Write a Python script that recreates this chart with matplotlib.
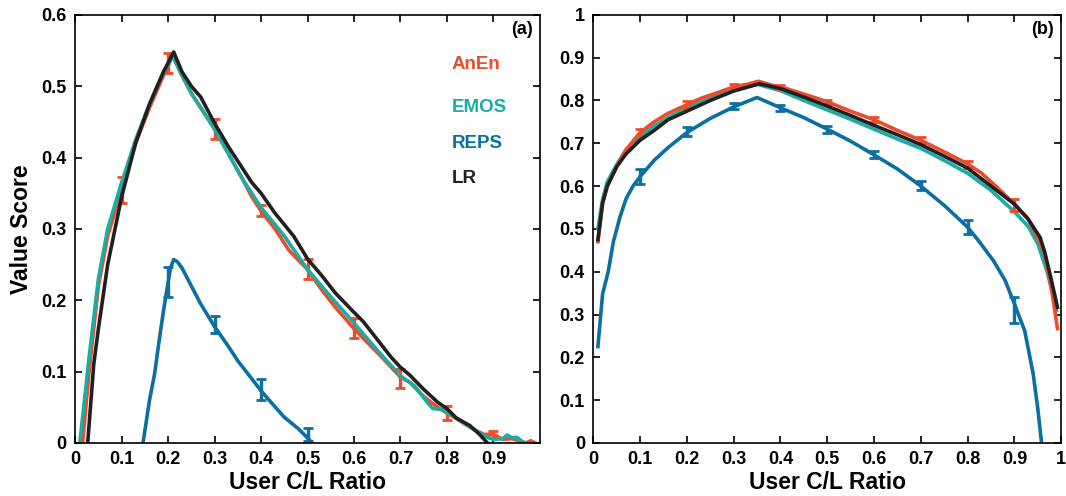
import matplotlib
matplotlib.use("Agg")
import matplotlib.pyplot as plt

plt.rcParams['font.family'] = ['Liberation Sans', 'DejaVu Sans']
plt.rcParams['font.weight'] = 'bold'

# colours of the four forecasts
c_anen = '#EE4B2B'
c_emos = '#1AADA3'
c_reps = '#0C6FA2'
c_lr = '#231F20'

# ---- panel (a) ----
a_anen_x = [0.016, 0.03, 0.05, 0.07, 0.1, 0.13, 0.16, 0.19, 0.21, 0.23, 0.25, 0.28, 0.3, 0.33, 0.36, 0.38,
            0.4, 0.43, 0.46, 0.5, 0.53, 0.56, 0.6, 0.63, 0.66, 0.7, 0.72, 0.75, 0.78, 0.8, 0.83, 0.86, 0.88,
            0.9, 0.92, 0.94, 0.96, 0.97, 0.98, 0.99]
a_anen_y = [0.0, 0.1, 0.22, 0.29, 0.355, 0.42, 0.47, 0.515, 0.543, 0.515, 0.49, 0.46, 0.44, 0.405, 0.37, 0.345,
            0.325, 0.3, 0.27, 0.243, 0.215, 0.19, 0.16, 0.14, 0.12, 0.092, 0.085, 0.065, 0.05, 0.042, 0.03, 0.018, 0.012,
            0.012, 0.005, 0.006, 0.002, 0.0, 0.003, 0.0]
a_emos_x = [0.01, 0.03, 0.05, 0.07, 0.1, 0.13, 0.16, 0.19, 0.21, 0.23, 0.25, 0.28, 0.3, 0.33, 0.36, 0.4, 0.45,
            0.5, 0.55, 0.6, 0.65, 0.7, 0.73, 0.76, 0.77, 0.79, 0.82, 0.85, 0.88, 0.9, 0.92, 0.93, 0.94, 0.95,
            0.96, 0.965]
a_emos_y = [0.0, 0.12, 0.23, 0.3, 0.365, 0.425, 0.475, 0.52, 0.542, 0.515, 0.49, 0.46, 0.44, 0.405, 0.37, 0.33, 0.29,
            0.243, 0.205, 0.168, 0.13, 0.094, 0.08, 0.055, 0.048, 0.047, 0.035, 0.022, 0.01, 0.005, 0.006, 0.011, 0.007,
            0.008, 0.003, 0.0]
a_reps_x = [0.146, 0.16, 0.171, 0.18, 0.19, 0.2, 0.205, 0.212, 0.22, 0.23, 0.25, 0.27, 0.3, 0.33, 0.35, 0.38,
            0.4, 0.42, 0.45, 0.48, 0.5, 0.51]
a_reps_y = [0.0, 0.06, 0.097, 0.14, 0.185, 0.225, 0.245, 0.257, 0.254, 0.245, 0.22, 0.195, 0.163, 0.135, 0.115, 0.09,
            0.073, 0.058, 0.036, 0.02, 0.007, 0.0]
a_lr_x = [0.027, 0.04, 0.05, 0.07, 0.1, 0.13, 0.16, 0.19, 0.212, 0.23, 0.25, 0.27, 0.3, 0.33, 0.36, 0.38, 0.4,
          0.43, 0.47, 0.5, 0.53, 0.56, 0.6, 0.62, 0.65, 0.68, 0.7, 0.72, 0.75, 0.78, 0.8, 0.82, 0.85, 0.87, 0.887]
a_lr_y = [0.0, 0.11, 0.16, 0.25, 0.345, 0.42, 0.475, 0.52, 0.548, 0.52, 0.5, 0.485, 0.448, 0.415, 0.385, 0.365, 0.35,
          0.322, 0.29, 0.258, 0.235, 0.21, 0.183, 0.17, 0.145, 0.12, 0.106, 0.095, 0.075, 0.057, 0.048, 0.035, 0.024,
          0.012, 0.0]

a_anen_err_x = [0.1, 0.2, 0.3, 0.4, 0.5, 0.6, 0.7, 0.8, 0.9]
a_anen_err_y = [0.355, 0.533, 0.44, 0.326, 0.244, 0.161, 0.09, 0.042, 0.012]
a_anen_err = [0.018, 0.014, 0.014, 0.008, 0.014, 0.014, 0.013, 0.01, 0.005]
a_reps_err_x = [0.2, 0.3, 0.4, 0.5]
a_reps_err_y = [0.225, 0.166, 0.075, 0.012]
a_reps_err = [0.021, 0.012, 0.015, 0.009]

# ---- panel (b) ----
b_anen_x = [0.01, 0.02, 0.03, 0.05, 0.07, 0.1, 0.13, 0.16, 0.2, 0.23, 0.27, 0.3, 0.33, 0.353, 0.38, 0.4, 0.45,
            0.5, 0.55, 0.6, 0.65, 0.7, 0.75, 0.8, 0.83, 0.86, 0.9, 0.927, 0.95, 0.965, 0.98, 0.992]
b_anen_y = [0.47, 0.56, 0.6, 0.645, 0.685, 0.725, 0.75, 0.77, 0.79, 0.805, 0.82, 0.832, 0.838, 0.845, 0.836, 0.832,
            0.815, 0.797, 0.775, 0.755, 0.73, 0.707, 0.68, 0.652, 0.63, 0.6, 0.558, 0.527, 0.48, 0.44, 0.356, 0.267]
b_emos_x = [0.01, 0.02, 0.03, 0.05, 0.07, 0.1, 0.13, 0.16, 0.2, 0.25, 0.3, 0.35, 0.4, 0.45, 0.5, 0.55, 0.6,
            0.65, 0.7, 0.75, 0.8, 0.85, 0.9, 0.93, 0.95, 0.97, 0.99]
b_emos_y = [0.5, 0.57, 0.61, 0.65, 0.685, 0.715, 0.74, 0.76, 0.783, 0.805, 0.825, 0.838, 0.823, 0.8, 0.778, 0.756,
            0.733, 0.71, 0.688, 0.66, 0.63, 0.59, 0.54, 0.505, 0.465, 0.4, 0.31]
b_reps_x = [0.01, 0.02, 0.032, 0.043, 0.057, 0.07, 0.085, 0.1, 0.13, 0.16, 0.2, 0.25, 0.3, 0.35, 0.4, 0.45,
            0.5, 0.55, 0.6, 0.65, 0.7, 0.75, 0.8, 0.823, 0.855, 0.88, 0.9, 0.922, 0.94, 0.95, 0.958]
b_reps_y = [0.225, 0.348, 0.4, 0.47, 0.527, 0.57, 0.6, 0.622, 0.66, 0.69, 0.725, 0.758, 0.785, 0.807, 0.783, 0.76,
            0.733, 0.705, 0.673, 0.64, 0.6, 0.555, 0.504, 0.473, 0.426, 0.38, 0.325, 0.262, 0.162, 0.08, 0.0]
b_lr_x = [0.01, 0.02, 0.03, 0.05, 0.07, 0.1, 0.13, 0.16, 0.2, 0.25, 0.3, 0.355, 0.4, 0.45, 0.5, 0.55, 0.6,
          0.65, 0.7, 0.75, 0.8, 0.85, 0.9, 0.93, 0.955, 0.965, 0.978, 0.992]
b_lr_y = [0.475, 0.56, 0.6, 0.645, 0.675, 0.707, 0.73, 0.755, 0.775, 0.8, 0.822, 0.839, 0.828, 0.808, 0.787, 0.765,
          0.742, 0.72, 0.697, 0.67, 0.642, 0.6, 0.558, 0.522, 0.48, 0.445, 0.385, 0.317]

b_err_x = [0.1, 0.2, 0.3, 0.4, 0.5, 0.6, 0.7, 0.8, 0.9]
b_anen_err_y = [0.725, 0.79, 0.832, 0.832, 0.797, 0.755, 0.707, 0.651, 0.556]
b_anen_err = [0.009, 0.008, 0.006, 0.005, 0.005, 0.006, 0.007, 0.008, 0.014]
b_reps_err_y = [0.622, 0.727, 0.786, 0.783, 0.733, 0.673, 0.601, 0.504, 0.31]
b_reps_err = [0.018, 0.01, 0.007, 0.007, 0.008, 0.008, 0.01, 0.017, 0.03]

lw = 2.6

fig = plt.figure(figsize=(10.66, 4.96), dpi=100)
ax1 = fig.add_axes([0.0705, 0.107, 0.436, 0.863])
ax2 = fig.add_axes([0.5565, 0.107, 0.439, 0.863])


def estilo(ax, ylim, yticks, xticks):
    ax.set_xlim(0, 1)
    ax.set_ylim(*ylim)
    ax.set_xticks(xticks)
    ax.set_xticklabels([f"{t:g}" for t in xticks])
    ax.set_yticks(yticks)
    ax.set_yticklabels([f"{t:g}" for t in yticks])
    ax.tick_params(direction='in', top=True, right=True, length=5, width=1.2, labelsize=13, pad=6)
    for s in ax.spines.values():
        s.set_linewidth(1.2)
    ax.set_xlabel("User C/L Ratio", fontsize=16.5, fontweight='bold', labelpad=2)


# panel (a)
ax1.plot(a_anen_x, a_anen_y, color=c_anen, lw=lw)
ax1.errorbar(a_anen_err_x, a_anen_err_y, yerr=a_anen_err, fmt='none', ecolor=c_anen, elinewidth=2.4, capsize=3.5, capthick=2)
ax1.plot(a_emos_x, a_emos_y, color=c_emos, lw=lw)
ax1.plot(a_reps_x, a_reps_y, color=c_reps, lw=lw)
ax1.errorbar(a_reps_err_x, a_reps_err_y, yerr=a_reps_err, fmt='none', ecolor=c_reps, elinewidth=2.4, capsize=3.5, capthick=2)
ax1.plot(a_lr_x, a_lr_y, color=c_lr, lw=lw)
estilo(ax1, (0, 0.6), [0, 0.1, 0.2, 0.3, 0.4, 0.5, 0.6], [0, 0.1, 0.2, 0.3, 0.4, 0.5, 0.6, 0.7, 0.8, 0.9])
ax1.set_ylabel("Value Score", fontsize=16.5, fontweight='bold', labelpad=6)
ax1.text(0.985, 0.965, "(a)", transform=ax1.transAxes, ha='right', va='center', fontsize=13, fontweight='bold')

# legenda com texto colorido
nomes = ["AnEn", "EMOS", "REPS", "LR"]
cores = [c_anen, c_emos, c_reps, c_lr]
alturas = [0.883, 0.783, 0.699, 0.617]
for n, c, h in zip(nomes, cores, alturas):
    ax1.text(0.81, h, n, transform=ax1.transAxes, color=c, fontsize=13.5, fontweight='bold', va='center', ha='left')

# panel (b)
ax2.plot(b_emos_x, b_emos_y, color=c_emos, lw=lw)
ax2.plot(b_anen_x, b_anen_y, color=c_anen, lw=lw)
ax2.errorbar(b_err_x, b_anen_err_y, yerr=b_anen_err, fmt='none', ecolor=c_anen, elinewidth=2.4, capsize=3.5, capthick=2)
ax2.plot(b_reps_x, b_reps_y, color=c_reps, lw=lw)
ax2.errorbar(b_err_x, b_reps_err_y, yerr=b_reps_err, fmt='none', ecolor=c_reps, elinewidth=2.4, capsize=3.5, capthick=2)
ax2.plot(b_lr_x, b_lr_y, color=c_lr, lw=lw)
estilo(ax2, (0, 1), [0, 0.1, 0.2, 0.3, 0.4, 0.5, 0.6, 0.7, 0.8, 0.9, 1],
       [0, 0.1, 0.2, 0.3, 0.4, 0.5, 0.6, 0.7, 0.8, 0.9, 1])
ax2.text(0.985, 0.965, "(b)", transform=ax2.transAxes, ha='right', va='center', fontsize=13, fontweight='bold')

fig.savefig("out.png", dpi=100)
